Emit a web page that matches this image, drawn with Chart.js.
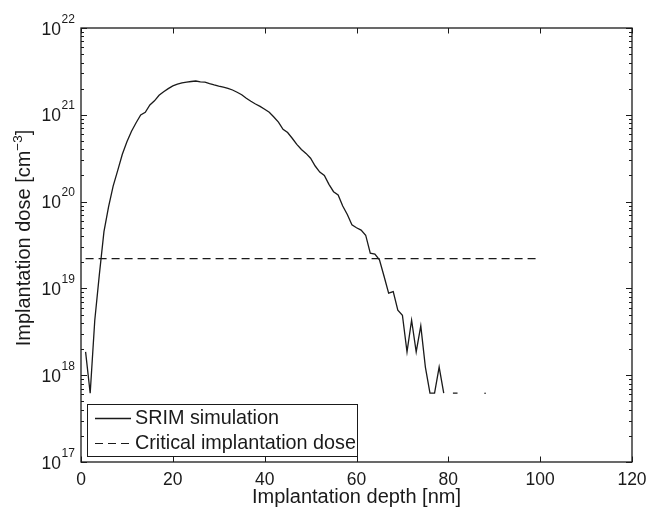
<!DOCTYPE html>
<html>
<head>
<meta charset="utf-8">
<script src="https://cdn.jsdelivr.net/npm/chart.js@4"></script>
<style>
  body { margin: 0; background: #fff; }
  #wrap { width: 649px; height: 507px; }
</style>
</head>
<body>
<div id="wrap"><canvas id="doseChart" width="649" height="507"></canvas></div>
<script>
// depth in nm, dose in cm^-3 (null = no counts, line breaks)
const depthNm = [
  1, 2, 3, 4, 5, 6, 7, 8, 9, 10,
  11, 12, 13, 14, 15, 16, 17, 18, 19, 20,
  21, 22, 23, 24, 25, 26, 27, 28, 29, 30,
  31, 32, 33, 34, 35, 36, 37, 38, 39, 40,
  41, 42, 43, 44, 45, 46, 47, 48, 49, 50,
  51, 52, 53, 54, 55, 56, 57, 58, 59, 60,
  61, 62, 63, 64, 65, 66, 67, 68, 69, 70,
  71, 72, 73, 74, 75, 76, 77, 78, 79, 80,
  81, 82, 83, 84, 85, 86, 87, 88
];
const srimDose = [
  1.86e18, 6.2e17, 4.3e18, 1.45e19, 4.5e19, 8.7e19, 1.51e20, 2.29e20, 3.51e20, 4.9e20,
  6.46e20, 8.11e20, 9.95e20, 1.07e21, 1.30e21, 1.45e21, 1.68e21, 1.84e21, 2.0e21, 2.15e21,
  2.25e21, 2.33e21, 2.38e21, 2.42e21, 2.45e21, 2.40e21, 2.38e21, 2.29e21, 2.21e21, 2.14e21,
  2.08e21, 2.02e21, 1.93e21, 1.82e21, 1.70e21, 1.55e21, 1.43e21, 1.33e21, 1.25e21, 1.16e21,
  1.07e21, 9.44e20, 8.22e20, 6.81e20, 6.24e20, 5.37e20, 4.57e20, 3.98e20, 3.59e20, 3.16e20,
  2.57e20, 2.19e20, 2.0e20, 1.58e20, 1.30e20, 1.19e20, 8.9e19, 7.1e19, 5.4e19, 5.0e19,
  4.7e19, 4.1e19, 2.54e19, 2.49e19, 2.14e19, 1.38e19, 8.8e18, 9.2e18, 5.6e18, 4.9e18,
  1.86e18, 4.3e18, 1.86e18, 3.7e18, 1.24e18, 6.2e17, 6.2e17, 1.24e18, 6.2e17, null,
  6.2e17, 6.2e17, null, null, null, null, null, 6.2e17
];
const criticalDepth = [1, 99];
const criticalDose = [2.2e19, 2.2e19];

const xTicks = [0, 20, 40, 60, 80, 100, 120];
const yDecades = [17, 18, 19, 20, 21, 22];

const FONT = '"Liberation Sans", Arial, Helvetica, sans-serif';
const INK = '#1a1a1a';

// ---- axes box, ticks, labels, legend (MATLAB look) ----
const matlabAxesPlugin = {
  id: 'matlabAxes',
  afterDraw(chart) {
    const { ctx, chartArea: a, scales: { x, y } } = chart;
    ctx.save();
    ctx.strokeStyle = INK;
    ctx.fillStyle = INK;

    // box
    ctx.lineWidth = 1.3;
    ctx.strokeRect(a.left, a.top, a.right - a.left, a.bottom - a.top);

    ctx.lineWidth = 1;
    ctx.beginPath();
    // x ticks top + bottom
    xTicks.forEach(v => {
      const px = Math.round(x.getPixelForValue(v)) + 0.5;
      ctx.moveTo(px, a.bottom); ctx.lineTo(px, a.bottom - 5.5);
      ctx.moveTo(px, a.top); ctx.lineTo(px, a.top + 5.5);
    });
    // y ticks, major + minor, left + right
    yDecades.forEach(d => {
      for (let m = 1; m <= 9; m++) {
        if (d === 22 && m > 1) break;
        const py = Math.round(y.getPixelForValue(m * Math.pow(10, d))) + 0.5;
        const len = m === 1 ? 6 : 3;
        ctx.moveTo(a.left, py); ctx.lineTo(a.left + len, py);
        ctx.moveTo(a.right, py); ctx.lineTo(a.right - len, py);
      }
    });
    ctx.stroke();

    // x tick labels
    ctx.font = '17.5px ' + FONT;
    ctx.textAlign = 'center';
    ctx.textBaseline = 'alphabetic';
    xTicks.forEach(v => ctx.fillText(String(v), x.getPixelForValue(v), 485));

    // y tick labels 10^n
    yDecades.forEach(d => {
      const py = y.getPixelForValue(Math.pow(10, d));
      ctx.font = '17.5px ' + FONT;
      ctx.textAlign = 'right';
      ctx.fillText('10', 61, py + 6.5);
      ctx.font = '12px ' + FONT;
      ctx.textAlign = 'left';
      ctx.fillText(String(d), 61.5, py - 5.5);
    });

    // x title
    ctx.font = '20px ' + FONT;
    ctx.textAlign = 'center';
    ctx.fillText('Implantation depth [nm]', (a.left + a.right) / 2, 503);

    // y title, rotated, with superscript
    ctx.save();
    ctx.translate(30, 238);
    ctx.rotate(-Math.PI / 2);
    const main1 = 'Implantation dose [cm';
    const sup = '\u22123';
    const tail = ']';
    ctx.font = '20px ' + FONT;
    const w1 = ctx.measureText(main1).width;
    const w3 = ctx.measureText(tail).width;
    ctx.font = '13.5px ' + FONT;
    const w2 = ctx.measureText(sup).width;
    let cx = -(w1 + w2 + w3) / 2;
    ctx.textAlign = 'left';
    ctx.font = '20px ' + FONT;
    ctx.fillText(main1, cx, 0);
    ctx.font = '13.5px ' + FONT;
    ctx.fillText(sup, cx + w1, -8.5);
    ctx.font = '20px ' + FONT;
    ctx.fillText(tail, cx + w1 + w2, 0);
    ctx.restore();

    // legend
    const lg = { left: 87, top: 404, right: 357, bottom: 456 };
    ctx.fillStyle = '#fff';
    ctx.fillRect(lg.left, lg.top, lg.right - lg.left, lg.bottom - lg.top);
    ctx.lineWidth = 1;
    ctx.strokeStyle = INK;
    ctx.strokeRect(lg.left + 0.5, lg.top + 0.5, lg.right - lg.left, lg.bottom - lg.top);
    const rows = [418, 443];
    chart.data.datasets.forEach((ds, i) => {
      const ry = Math.round(rows[i]) + 0.5;
      ctx.strokeStyle = ds.borderColor;
      ctx.lineWidth = ds.borderWidth;
      ctx.setLineDash(ds.borderDash || []);
      ctx.beginPath();
      ctx.moveTo(95, ry); ctx.lineTo(131, ry);
      ctx.stroke();
      ctx.setLineDash([]);
      ctx.fillStyle = INK;
      ctx.font = '19.8px ' + FONT;
      ctx.textAlign = 'left';
      ctx.textBaseline = 'middle';
      ctx.fillText(ds.label, 135, rows[i] + 1);
    });
    ctx.restore();
  }
};

const toPoints = (xs, ys) => xs.map((v, i) => ({ x: v, y: ys[i] }));

new Chart(document.getElementById('doseChart'), {
  type: 'line',
  data: {
    datasets: [
      {
        label: 'SRIM simulation',
        data: toPoints(depthNm, srimDose),
        borderColor: INK,
        backgroundColor: INK,
        borderWidth: 1.3,
        spanGaps: false,
        tension: 0,
        // single isolated sample still shows as a tiny mark
        pointRadius: ctx => {
          const i = ctx.dataIndex;
          const ys = srimDose;
          return ys[i] !== null && ys[i - 1] == null && ys[i + 1] == null ? 0.8 : 0;
        },
        pointBorderWidth: 0,
      },
      {
        label: 'Critical implantation dose',
        data: toPoints(criticalDepth, criticalDose),
        borderColor: INK,
        borderWidth: 1.2,
        borderDash: [8, 5],
        pointRadius: 0,
      }
    ]
  },
  options: {
    responsive: false,
    animation: false,
    layout: { padding: { top: 28, right: 17, left: 0, bottom: 0 } },
    scales: {
      x: {
        type: 'linear',
        min: 0,
        max: 120,
        ticks: { display: false },
        grid: { display: false },
        border: { display: false },
        afterFit(scale) { scale.height = 45; }
      },
      y: {
        type: 'logarithmic',
        min: 1e17,
        max: 1e22,
        ticks: { display: false },
        grid: { display: false },
        border: { display: false },
        afterFit(scale) { scale.width = 81; }
      }
    },
    plugins: {
      legend: { display: false },
      tooltip: { enabled: false }
    }
  },
  plugins: [matlabAxesPlugin]
});
</script>
</body>
</html>
